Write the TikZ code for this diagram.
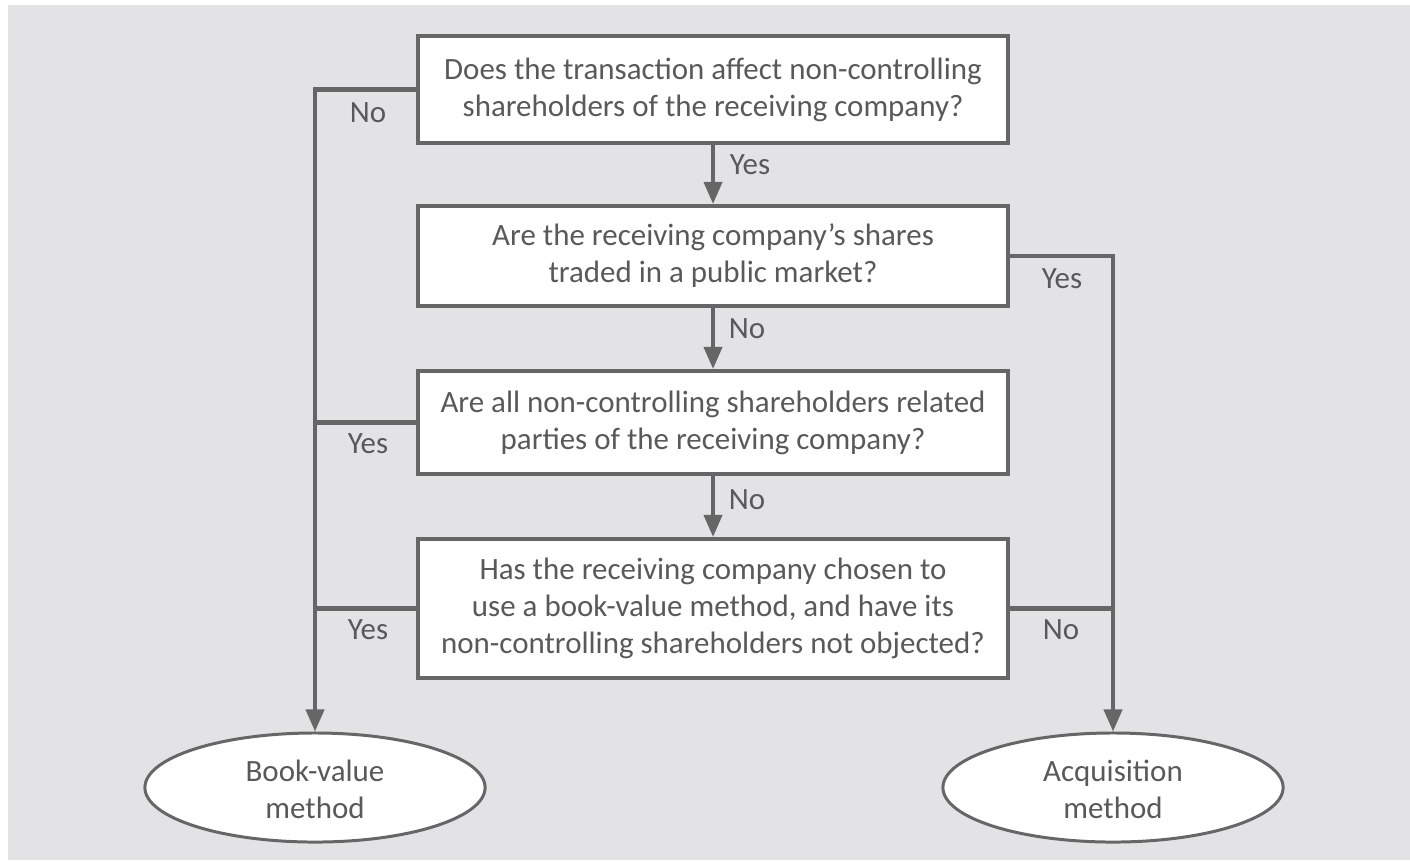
\documentclass[tikz,border=0pt]{standalone}
\usepackage{fontspec}
\setmainfont{Carlito}
\usetikzlibrary{shapes.geometric,arrows.meta}

\definecolor{panelgray}{HTML}{E3E3E5}
\definecolor{linegray}{HTML}{666666}
\definecolor{textgray}{HTML}{595959}

\tikzset{
  question/.style={draw=linegray, line width=1.15pt, fill=white, minimum width=5.9cm,
    align=center, text=textgray, font=\fontsize{8.8}{10.5}\selectfont},
  outcome/.style={ellipse, draw=linegray, line width=0.85pt, fill=white,
    minimum width=3.4cm, minimum height=1.09cm, inner sep=0pt},
  answer/.style={text=textgray, font=\fontsize{8.8}{10.5}\selectfont, align=center},
  flow/.style={draw=linegray, line width=1.15pt, -{Triangle[length=0.22cm,width=0.18cm]}},
  branch/.style={draw=linegray, line width=1.15pt}
}

\begin{document}
\begin{tikzpicture}[x=0.01cm, y=-0.01cm]
    \useasboundingbox (0,0) rectangle (1410,860);
    \fill[panelgray] (8,5) rectangle (1410,860);

    % questions
    \node[question, minimum height=1.06cm] (q1) at (713,89.5)
        {Does the transaction affect non-controlling\\shareholders of the receiving company?};
    \node[question, minimum height=1.0cm] (q2) at (713,256)
        {Are the receiving company’s shares\\traded in a public market?};
    \node[question, minimum height=1.03cm] (q3) at (713,422.5)
        {Are all non-controlling shareholders related\\parties of the receiving company?};
    \node[question, minimum height=1.39cm] (q4) at (713,608.5)
        {Has the receiving company chosen to\\use a book-value method, and have its\\non-controlling shareholders not objected?};

    % outcomes
    \node[outcome] (book) at (315,787.5) {};
    \node[answer] at (315,789.5) {Book-value\\method};
    \node[outcome] (acq) at (1113,787.5) {};
    \node[answer] at (1113,789.5) {Acquisition\\method};

    % main column
    \draw[flow] (q1) -- (q2);
    \draw[flow] (q2) -- (q3);
    \draw[flow] (q3) -- (q4);

    % left side
    \draw[flow] (q1.west) -| (book.north);
    \draw[branch] (q3.west) -- (q3.west -| book.north);
    \draw[branch] (q4.west) -- (q4.west -| book.north);

    % right side
    \draw[flow] (q2.east) -| (acq.north);
    \draw[branch] (q4.east) -- (q4.east -| acq.north);

    % answers
    \node[answer] at (368,113) {No};
    \node[answer] at (750,165) {Yes};
    \node[answer] at (1062,279) {Yes};
    \node[answer] at (747,329) {No};
    \node[answer] at (368,444) {Yes};
    \node[answer] at (747,500) {No};
    \node[answer] at (368,630) {Yes};
    \node[answer] at (1061,630) {No};
\end{tikzpicture}
\end{document}
